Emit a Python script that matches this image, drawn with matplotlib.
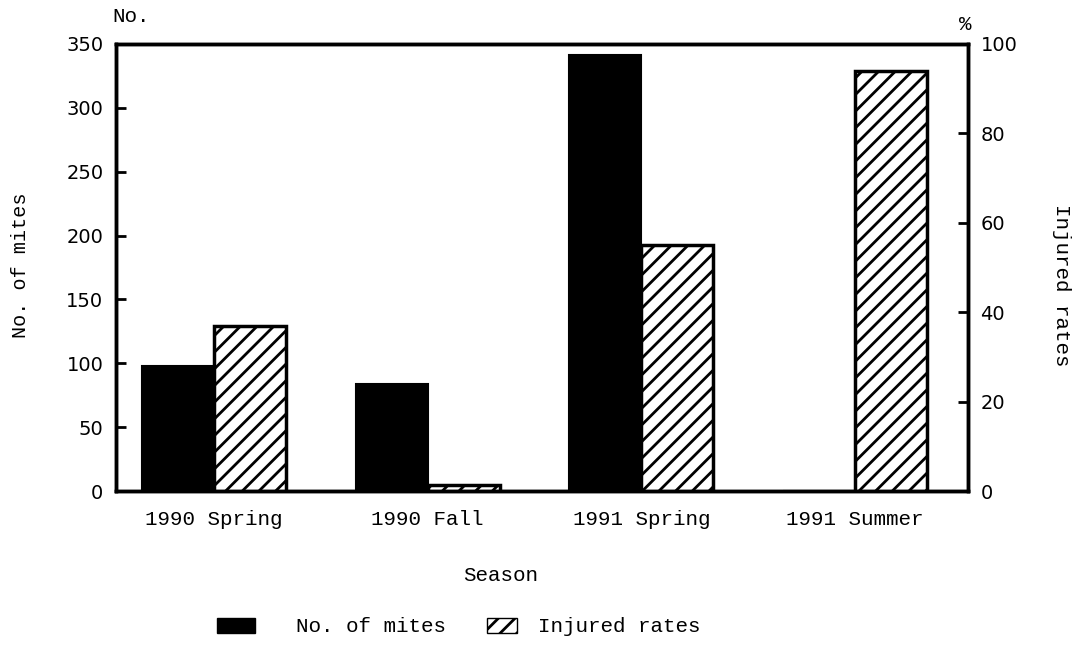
import matplotlib.pyplot as plt
import matplotlib.patches as mpatches
import numpy as np

seasons = ['1990 Spring', '1990 Fall', '1991 Spring', '1991 Summer']
mites = [98, 84, 341, 0]
injured = [37, 1.3, 55, 94]

mono = 'Liberation Mono'
plt.rcParams['hatch.linewidth'] = 2.0

fig = plt.figure(figsize=(10.76, 6.47), dpi=100)
ax = fig.add_axes([0.1078, 0.2411, 0.7918, 0.6909])
ax2 = ax.twinx()

x = np.arange(len(seasons))
w = 0.337
ax.bar(x - w/2, mites, w, color='black', edgecolor='black', linewidth=1.5)
ax2.bar(x + w/2, injured, w, color='white', edgecolor='black', linewidth=2.5, hatch='//')

ax.set_xlim(-0.46, 3.53)
ax.set_ylim(0, 350)
ax2.set_ylim(0, 100)
ax.set_yticks(np.arange(0, 351, 50))
ax2.set_yticks(np.arange(0, 101, 20))
ax.set_xticks(x)
ax.set_xticklabels(seasons, fontfamily=mono, fontsize=15)
ax.tick_params(axis='x', length=0, pad=14)
ax.tick_params(axis='y', direction='in', length=7, width=2, labelsize=14, pad=9)
ax2.tick_params(axis='y', direction='in', length=7, width=2, labelsize=14, pad=9)

for a in (ax, ax2):
    for s in a.spines.values():
        s.set_linewidth(2.5)

ax.set_xlabel('Season', fontfamily=mono, fontsize=15)
ax.xaxis.set_label_coords(0.451, -0.168)
ax.set_ylabel('No. of mites', fontfamily=mono, fontsize=14.5)
ax.yaxis.set_label_coords(-0.101, 0.505)
ax2.set_ylabel('Injured rates', fontfamily=mono, fontsize=15, rotation=-90, va='center')
ax2.yaxis.set_label_coords(1.11, 0.46)

fig.text(0.104, 0.975, 'No.', fontfamily=mono, fontsize=15, va='center', ha='left')
fig.text(0.897, 0.962, '%', fontfamily=mono, fontsize=15, va='center', ha='center')

h1 = mpatches.Patch(facecolor='black', edgecolor='black', label='No. of mites')
h2 = mpatches.Patch(facecolor='white', edgecolor='black', hatch='//', label='Injured rates')
leg_kw = dict(frameon=False, prop={'family': mono, 'size': 15}, borderpad=0,
              borderaxespad=0, handleheight=0.7, loc='center left')
fig.legend(handles=[h1], bbox_to_anchor=(217/1076, 1 - 627/647),
           handlelength=1.8, handletextpad=2.0, **leg_kw)
fig.legend(handles=[h2], bbox_to_anchor=(487/1076, 1 - 627/647),
           handlelength=1.45, handletextpad=1.0, **leg_kw)

fig.savefig('out.png', dpi=100)
